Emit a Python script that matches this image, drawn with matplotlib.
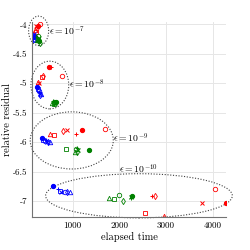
import matplotlib
matplotlib.use('Agg')
import matplotlib.pyplot as plt
from matplotlib.patches import Ellipse

plt.rcParams['font.family'] = 'serif'
plt.rcParams['font.serif'] = ['cmr10']
plt.rcParams['mathtext.fontset'] = 'cm'
plt.rcParams['axes.formatter.use_mathtext'] = True

markers = ['o', 'x', '+', '.', '^', 's', 'd']
eps_labels = [r'$\epsilon = 10^{-7}$', r'$\epsilon = 10^{-8}$',
              r'$\epsilon = 10^{-9}$', r'$\epsilon = 10^{-10}$']

# elapsed time / residual, one row per tolerance, one entry per marker
red_time = [[300, 215, 235, 250, 190, 205, 225],
            [765, 270, 530, 500, 255, 350, 365],
            [1700, 870, 1065, 1190, 510, 590, 800],
            [4040, 3780, 2690, 4280, 2950, 2560, 2760]]
red_res = [[-3.99, -4.02, -4.04, -4.03, -4.10, -4.13, -4.07],
           [-4.87, -4.99, -4.72, -4.72, -4.98, -4.90, -4.88],
           [-5.77, -5.79, -5.86, -5.80, -5.86, -5.87, -5.81],
           [-6.79, -7.04, -6.91, -7.03, -7.26, -7.21, -6.91]]

blue_time = [[180, 170, 200, 160, 175, 195, 210],
             [270, 290, 280, 245, 320, 260, 305],
             [400, 450, 420, 345, 510, 370, 480],
             [830, 760, 680, 578, 935, 720, 870]]
blue_res = [[-4.20, -4.17, -4.19, -4.22, -4.25, -4.27, -4.23],
            [-5.13, -5.18, -5.15, -5.07, -5.19, -5.10, -5.20],
            [-5.98, -5.99, -5.97, -5.93, -5.99, -5.97, -6.00],
            [-6.84, -6.84, -6.80, -6.75, -6.84, -6.83, -6.85]]

green_time = [[250, 270, 240, 280, 230, 260, 310],
              [600, 620, 580, 640, 560, 590, 610],
              [1080, 1120, 1100, 1340, 1060, 850, 1100],
              [2000, 2260, 2240, 2280, 1770, 1880, 2070]]
green_res = [[-4.20, -4.24, -4.22, -4.28, -4.26, -4.27, -4.31],
             [-5.31, -5.33, -5.30, -5.32, -5.34, -5.35, -5.33],
             [-6.12, -6.13, -6.10, -6.14, -6.16, -6.12, -6.17],
             [-6.89, -6.93, -6.95, -6.92, -6.94, -6.96, -7.00]]

# ellipse centre, width, height and label position per tolerance
ell_center = [(270, -4.11), (510, -5.03), (980, -5.97), (2420, -6.91)]
ell_size = [(430, 0.50), (810, 0.81), (1780, 0.97), (4000, 0.75)]
label_pos = [(490, -4.12), (930, -5.02), (1860, -5.93), (2000, -6.46)]

fig = plt.figure(figsize=(2.5, 2.5), dpi=100)
ax = fig.add_axes([0.128, 0.132, 0.776, 0.78])

series = [('#ff0000', red_time, red_res),
          ('#0000ff', blue_time, blue_res),
          ('#008000', green_time, green_res)]

for color, times, res in series:
    for k in range(len(times)):
        for m, t, r in zip(markers, times[k], res[k]):
            if m == '.':
                ax.plot(t, r, marker='o', color=color, ms=2.8, ls='none')
            elif m in ('x', '+'):
                ax.plot(t, r, marker=m, color=color, ms=3.5, mew=0.7, ls='none')
            else:
                ax.plot(t, r, marker=m, color=color, mfc='none', ms=3.2, mew=0.6, ls='none')

for c, s, lp, lab in zip(ell_center, ell_size, label_pos, eps_labels):
    e = Ellipse(c, s[0], s[1], fill=False, ls=(0, (1, 1.5)), lw=0.8, ec='0.25', clip_on=False)
    ax.add_patch(e)
    ax.text(lp[0], lp[1], lab, fontsize=7, va='center', ha='left')

x_ticks = [1000, 2000, 3000, 4000]
y_ticks = [-4, -4.5, -5, -5.5, -6, -6.5, -7]
ax.set_xticks(x_ticks)
ax.set_xticklabels([str(v) for v in x_ticks])
ax.set_yticks(y_ticks)
ax.set_yticklabels(['%g' % v for v in y_ticks])
ax.set_xlim(128, 4285)
ax.set_ylim(-7.27, -3.96)

ax.grid(True, color='0.9', lw=0.7)
ax.set_axisbelow(True)
for side in ['top', 'right']:
    ax.spines[side].set_visible(False)
for side in ['left', 'bottom']:
    ax.spines[side].set_color('0.45')
    ax.spines[side].set_linewidth(0.8)
ax.tick_params(length=0, labelsize=6.5, pad=3)
ax.set_xlabel('elapsed time', fontsize=7.5, labelpad=2)
fig.text(0.03, 0.52, 'relative residual', fontsize=7.5, rotation=90,
         ha='center', va='center')

fig.savefig('out.png', dpi=100)
